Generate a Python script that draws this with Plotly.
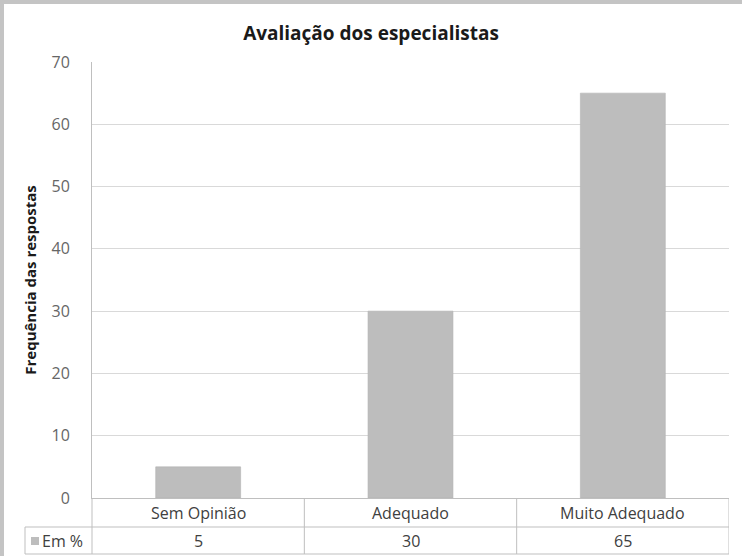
import plotly.graph_objects as go

# Chart content
title = "Avaliação dos especialistas"
y_title = "Frequência das respostas"
categories = ["Sem Opinião", "Adequado", "Muito Adequado"]
series_name = "Em %"
values = [5, 30, 65]
y_ticks = [0, 10, 20, 30, 40, 50, 60, 70]

# Canvas geometry (pixels)
W, H = 742, 556
ML, MR, MT, MB = 92, 13, 62, 58
PW, PH = W - ML - MR, H - MT - MB
ROW2_Y, TABLE_BOTTOM, TABLE_LEFT = 527, 554, 25

FONT = "Open Sans"
TEXT = "#404040"
LINE = "#bfbfbf"
GRID = "#d9d9d9"
BAR = "#bdbdbd"


def px_x(p):
    return (p - ML) / PW


def px_y(p):
    return (H - MB - p) / PH


fig = go.Figure()
fig.add_trace(go.Bar(
    x=categories, y=values, name=series_name, width=0.4,
    marker=dict(color=BAR, line=dict(color="#b3b3b3", width=0.6)),
    hoverinfo="x+y",
))

shapes = []
line = dict(color=LINE, width=1)
# frame strips on the top and left edges
shapes.append(dict(type="rect", xref="paper", yref="paper", x0=px_x(0), x1=px_x(W),
                   y0=px_y(0), y1=px_y(4), line=dict(width=0), fillcolor="#c4c4c4", layer="below"))
shapes.append(dict(type="rect", xref="paper", yref="paper", x0=px_x(0), x1=px_x(4),
                   y0=px_y(0), y1=px_y(H), line=dict(width=0), fillcolor="#c4c4c4", layer="below"))
# data table grid
y_row2 = px_y(ROW2_Y)
y_bot = px_y(TABLE_BOTTOM)
shapes.append(dict(type="line", xref="paper", yref="paper", x0=px_x(TABLE_LEFT), x1=1,
                   y0=y_row2, y1=y_row2, line=line))
shapes.append(dict(type="line", xref="paper", yref="paper", x0=px_x(TABLE_LEFT), x1=1,
                   y0=y_bot, y1=y_bot, line=line))
shapes.append(dict(type="line", xref="paper", yref="paper", x0=0, x1=0,
                   y0=y_bot, y1=0, line=line))
shapes.append(dict(type="line", xref="paper", yref="paper", x0=px_x(TABLE_LEFT), x1=px_x(TABLE_LEFT),
                   y0=y_bot, y1=y_row2, line=line))
for xb in [0.5, 1.5, 2.5]:
    shapes.append(dict(type="line", xref="x", yref="paper", x0=xb, x1=xb,
                       y0=y_bot, y1=0, line=line))
# legend key in the table
shapes.append(dict(type="rect", xref="paper", yref="paper", x0=px_x(31), x1=px_x(39),
                   y0=px_y(545), y1=px_y(537), line=dict(width=0), fillcolor=BAR))

annotations = []
y_lab = px_y((H - MB + ROW2_Y) / 2)
y_val = px_y((ROW2_Y + TABLE_BOTTOM) / 2)
cell_font = dict(family=FONT, size=16, color=TEXT)
for cat, v in zip(categories, values):
    annotations.append(dict(x=cat, xref="x", y=y_lab, yref="paper", text=cat, showarrow=False,
                            font=cell_font, xanchor="center", yanchor="middle"))
    annotations.append(dict(x=cat, xref="x", y=y_val, yref="paper", text=str(v), showarrow=False,
                            font=cell_font, xanchor="center", yanchor="middle"))
annotations.append(dict(x=px_x(40), xref="paper", y=y_val, yref="paper", text=series_name,
                        showarrow=False, font=cell_font, xanchor="left", yanchor="middle"))

fig.update_layout(
    width=W, height=H,
    margin=dict(l=ML, r=MR, t=MT, b=MB),
    paper_bgcolor="white", plot_bgcolor="white",
    showlegend=False,
    bargap=0.6,
    title=dict(text=f"<b>{title}</b>", x=0.5, xanchor="center", y=1 - 33 / H, yanchor="middle",
               font=dict(family=FONT, size=19, color="#1a1a1a")),
    xaxis=dict(type="category", range=[-0.5, 2.5], showticklabels=False, showgrid=False,
               showline=True, linecolor=LINE, linewidth=1, zeroline=False, fixedrange=True),
    yaxis=dict(range=[0, 70], tickvals=y_ticks, showgrid=True, gridcolor=GRID, gridwidth=1,
               showline=True, linecolor=LINE, linewidth=1, zeroline=False,
               ticks="", ticklabelstandoff=18,
               tickfont=dict(family=FONT, size=16, color="#666666"),
               title=dict(text=f"<b>{y_title}</b>", standoff=11,
                          font=dict(family=FONT, size=15, color="#1a1a1a"))),
    shapes=shapes,
    annotations=annotations,
)

fig.write_html("out.html")
